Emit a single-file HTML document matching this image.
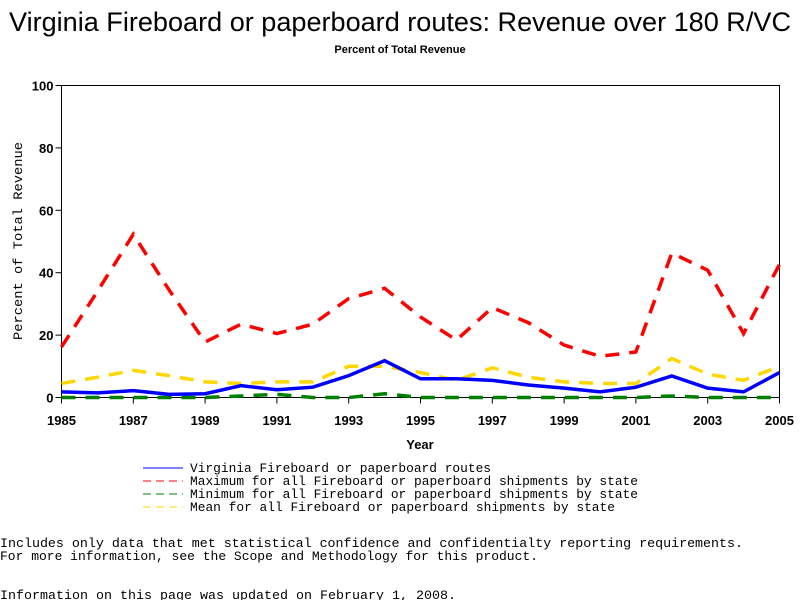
<!DOCTYPE html>
<html><head><meta charset="utf-8">
<style>
body{margin:0;background:#fff;}
svg{display:block;}
text{font-family:"Liberation Sans",sans-serif;}
.mono{font-family:"Liberation Mono",monospace;font-size:13px;}
.tick{font-family:"Liberation Sans",sans-serif;font-size:13px;font-weight:bold;}
</style></head>
<body>
<svg id="chart" width="800" height="600">
<text x="400" y="31" text-anchor="middle" font-size="27" textLength="782" lengthAdjust="spacingAndGlyphs">Virginia Fireboard or paperboard routes: Revenue over 180 R/VC</text>
<text x="400" y="53" text-anchor="middle" font-size="11" font-weight="bold">Percent of Total Revenue</text>
<rect x="61.5" y="85.5" width="718" height="312" fill="none" stroke="#000"/>
<g id="axes"></g>
<g id="series"></g>
<text x="420" y="449" text-anchor="middle" class="tick" font-size="12">Year</text>
<text transform="translate(22,241) rotate(-90)" text-anchor="middle" class="mono" font-size="12" textLength="198" lengthAdjust="spacingAndGlyphs">Percent of Total Revenue</text>
<g>
<line x1="143" y1="468" x2="183" y2="468" stroke="#0000ff"/>
<text x="190" y="472" class="mono" textLength="301" lengthAdjust="spacingAndGlyphs">Virginia Fireboard or paperboard routes</text>
<line x1="143" y1="481" x2="183" y2="481" stroke="#ff0000" stroke-dasharray="8,5"/>
<text x="190" y="485" class="mono" textLength="448" lengthAdjust="spacingAndGlyphs">Maximum for all Fireboard or paperboard shipments by state</text>
<line x1="143" y1="494" x2="183" y2="494" stroke="#008000" stroke-dasharray="8,5"/>
<text x="190" y="498" class="mono" textLength="448" lengthAdjust="spacingAndGlyphs">Minimum for all Fireboard or paperboard shipments by state</text>
<line x1="143" y1="507" x2="183" y2="507" stroke="#ffd700" stroke-dasharray="8,5"/>
<text x="190" y="511" class="mono" textLength="425" lengthAdjust="spacingAndGlyphs">Mean for all Fireboard or paperboard shipments by state</text>
</g>
<text x="0" y="547" class="mono" textLength="743" lengthAdjust="spacingAndGlyphs">Includes only data that met statistical confidence and confidentialty reporting requirements.</text>
<text x="0" y="560" class="mono" textLength="538" lengthAdjust="spacingAndGlyphs">For more information, see the Scope and Methodology for this product.</text>
<text x="0" y="599" class="mono" textLength="456" lengthAdjust="spacingAndGlyphs">Information on this page was updated on February 1, 2008.</text>
</svg>
<script>
const years = [1985,1986,1987,1988,1989,1990,1991,1992,1993,1994,1995,1996,1997,1998,1999,2000,2001,2002,2003,2004,2005];
const virginia = [1.8,1.5,2.2,1,1.2,3.8,2.5,3.3,7,11.8,6,6,5.5,4,3,1.8,3.3,6.9,3,1.8,8];
const maximum = [16.2,34,52.3,34.4,17.8,23.5,20.5,23.5,31.7,35,25.8,18.4,28.8,24,16.8,13.2,14.6,46.3,40.8,20.5,42.7];
const minimum = [0,0,0,0,0,0.5,1,0,0,1.2,0,0,0,0,0,0,0,0.5,0,0,0];
const mean = [4.5,6.5,8.7,7,5,4.5,5,5,10,10,8,5.5,9.5,6.5,5,4.5,4.5,12.5,7.5,5.5,10];
const xTicks = [1985,1987,1989,1991,1993,1995,1997,1999,2001,2003,2005];
const yTicks = [0,20,40,60,80,100];
const NS="http://www.w3.org/2000/svg";
const X0=61.5,X1=779.5,Y0=397.5,Y1=85.5;
function xs(v){return X0+(v-1985)/(2005-1985)*(X1-X0);}
function ys(v){return Y0-v/100*(Y0-Y1);}
const axes=document.getElementById('axes');
for(const t of xTicks){
 const l=document.createElementNS(NS,'line');
 l.setAttribute('x1',xs(t));l.setAttribute('x2',xs(t));l.setAttribute('y1',Y0);l.setAttribute('y2',Y0+6);l.setAttribute('stroke','#000');
 
 
 axes.appendChild(l);
 const tx=document.createElementNS(NS,'text');
 tx.setAttribute('x',xs(t));tx.setAttribute('y',425);tx.setAttribute('text-anchor','middle');tx.setAttribute('class','tick');
 tx.textContent=t;
 
 
 axes.appendChild(tx);
}
for(const t of yTicks){
 const l=document.createElementNS(NS,'line');
 l.setAttribute('x1',X0-6);l.setAttribute('x2',X0);l.setAttribute('y1',ys(t));l.setAttribute('y2',ys(t));l.setAttribute('stroke','#000');
 
 
 axes.appendChild(l);
 const tx=document.createElementNS(NS,'text');
 tx.setAttribute('x',X0-8);tx.setAttribute('y',ys(t)+5);tx.setAttribute('text-anchor','end');tx.setAttribute('class','tick');
 tx.textContent=t;
 
 
 axes.appendChild(tx);
}
const g=document.getElementById('series');
function draw(vals,color,dash,name){
 const p=document.createElementNS(NS,'polyline');
 p.setAttribute('points',vals.map((v,i)=>xs(years[i])+','+ys(v)).join(' '));
 p.setAttribute('fill','none');p.setAttribute('stroke',color);p.setAttribute('stroke-width','3.5');
 if(dash)p.setAttribute('stroke-dasharray',dash);
 
 
 g.appendChild(p);
}
draw(minimum,'#008000','14,10','series-minimum');
draw(mean,'#ffd700','14,10','series-mean');
draw(maximum,'#ff0000','14,10','series-maximum');
draw(virginia,'#0000ff',null,'series-virginia');
</script>
</body></html>
